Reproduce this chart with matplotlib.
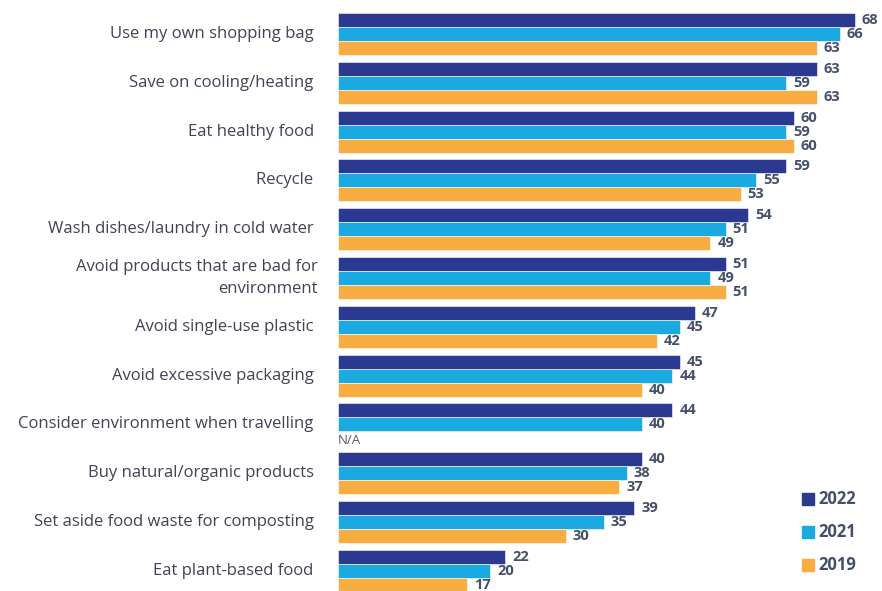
import matplotlib
matplotlib.use("Agg")
import matplotlib.pyplot as plt
import numpy as np

categories = ["Use my own shopping bag ", "Save on cooling/heating ", "Eat healthy food ",
              "Recycle ", "Wash dishes/laundry in cold water ",
              "Avoid products that are bad for\nenvironment", "Avoid single-use plastic ",
              "Avoid excessive packaging ", "Consider environment when travelling ",
              "Buy natural/organic products ", "Set aside food waste for composting ",
              "Eat plant-based food "]
v2022 = [68, 63, 60, 59, 54, 51, 47, 45, 44, 40, 39, 22]
v2021 = [66, 59, 59, 55, 51, 49, 45, 44, 40, 38, 35, 20]
v2019 = [63, 63, 60, 53, 49, 51, 42, 40, None, 37, 30, 17]
series_names = ["2022", "2021", "2019"]
colors = ["#2B3990", "#1BA9E1", "#F7AD42"]

FONT = "Open Sans"
txt_col = "#3F4354"
num_col = "#44506A"

fig = plt.figure(figsize=(8.82, 5.91), dpi=100)
ax = fig.add_axes([338/882, 0, 1 - 338/882, 1])
spacing = 48.8
ax.set_ylim((591 - 34) / spacing, -34 / spacing)
ax.set_xlim(0, (882 - 338) / 7.6)
ax.axis("off")

bh = 14 / spacing
y = np.arange(len(categories))
for k, (vals, c) in enumerate(zip([v2022, v2021, v2019], colors)):
    off = (k - 1) * bh
    for i, v in enumerate(vals):
        if v is None:
            ax.text(0, y[i] + off + 0.05, "N/A", ha="left", va="center", fontsize=9.5,
                    color="#555a66", family=FONT)
            continue
        ax.barh(y[i] + off, v, height=bh, color=c, edgecolor="white", linewidth=0.4)
        ax.annotate(str(v), (v, y[i] + off), xytext=(5, 0), textcoords="offset points",
                    ha="left", va="center", fontsize=10.5, fontweight="bold",
                    color=num_col, family=FONT)

for i, cat in enumerate(categories):
    ax.annotate(cat, (0, y[i]), xytext=(-20 * 72 / 100, 0), textcoords="offset points",
                ha="right", va="center", fontsize=12, color=txt_col, family=FONT,
                multialignment="right", linespacing=1.45, annotation_clip=False)

# legend
for j, (name, c) in enumerate(zip(series_names, colors)):
    ypx = 499 + j * 33
    fig.patches.append(plt.Rectangle((802/882, 1 - (ypx + 6)/591), 12/882, 12/591,
                                     transform=fig.transFigure, color=c, figure=fig))
    fig.text(818/882, 1 - ypx/591, name, ha="left", va="center", fontsize=12,
             fontweight="bold", color=num_col, family=FONT)

fig.savefig("out.png", dpi=100)
